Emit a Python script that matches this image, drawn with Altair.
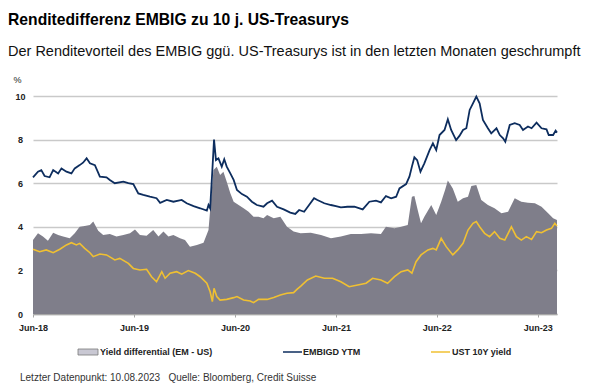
import altair as alt
import pandas as pd

# ---------------- data ----------------
embig_dates = [
    "2018-06-01", "2018-06-19", "2018-07-01", "2018-07-13", "2018-07-31", "2018-08-13",
    "2018-08-31", "2018-09-12", "2018-09-30", "2018-10-18", "2018-10-30", "2018-11-17",
    "2018-11-29", "2018-12-12", "2018-12-24", "2019-01-11", "2019-01-29", "2019-02-22",
    "2019-03-06", "2019-03-24", "2019-04-24", "2019-05-12", "2019-05-30", "2019-06-17",
    "2019-07-05", "2019-07-29", "2019-08-22", "2019-09-04", "2019-09-28", "2019-10-22",
    "2019-11-21", "2019-12-09", "2020-01-03", "2020-01-27", "2020-02-20", "2020-02-26",
    "2020-03-03", "2020-03-11", "2020-03-17", "2020-03-24", "2020-04-02", "2020-04-14",
    "2020-04-23", "2020-05-02", "2020-05-15", "2020-05-27", "2020-06-08", "2020-06-26",
    "2020-07-14", "2020-08-01", "2020-08-19", "2020-09-12", "2020-09-25", "2020-10-13",
    "2020-10-31", "2020-11-24", "2020-12-18", "2021-01-05", "2021-01-19", "2021-02-06",
    "2021-02-24", "2021-03-14", "2021-03-26", "2021-04-20", "2021-05-14", "2021-06-01",
    "2021-06-19", "2021-07-13", "2021-08-07", "2021-09-06", "2021-09-30", "2021-10-24",
    "2021-11-11", "2021-11-29", "2021-12-18", "2022-01-05", "2022-01-17", "2022-02-10",
    "2022-02-22", "2022-03-03", "2022-03-12", "2022-03-22", "2022-04-03", "2022-04-17",
    "2022-05-06", "2022-05-18", "2022-05-30", "2022-06-11", "2022-06-29", "2022-07-11",
    "2022-07-23", "2022-08-10", "2022-08-22", "2022-09-04", "2022-09-16", "2022-09-28",
    "2022-10-10", "2022-10-22", "2022-11-03", "2022-11-15", "2022-12-03", "2022-12-15",
    "2023-01-03", "2023-01-15", "2023-01-27", "2023-02-04", "2023-02-20", "2023-03-10",
    "2023-03-28", "2023-04-09", "2023-04-27", "2023-05-10", "2023-05-28", "2023-06-15",
    "2023-07-03", "2023-07-11", "2023-07-27", "2023-08-05", "2023-08-10",
]
embig_ytm = [
    6.27, 6.53, 6.60, 6.33, 6.27, 6.60,
    6.45, 6.68, 6.53, 6.45, 6.68, 6.83,
    6.94, 7.14, 6.91, 6.83, 6.30, 6.27,
    6.15, 6.00, 6.07, 6.00, 5.96, 5.53,
    5.46, 5.38, 5.31, 5.10, 5.23, 5.15,
    5.23, 5.08, 4.95, 4.85, 4.74, 5.00,
    4.85, 6.60, 8.00, 7.06, 7.14, 6.76,
    7.10, 6.76, 6.45, 6.15, 5.69, 5.50,
    5.38, 5.15, 5.00, 4.92, 5.08, 5.20,
    4.92, 4.80, 4.65, 4.59, 4.77, 4.69,
    5.00, 5.31, 5.23, 5.08, 5.00, 4.95,
    4.89, 4.92, 4.92, 4.80, 5.15, 5.20,
    5.12, 5.41, 5.31, 5.38, 5.76, 5.96,
    6.30, 6.76, 7.19, 7.06, 6.53, 6.91,
    7.52, 7.83, 7.52, 8.21, 8.44, 8.93,
    8.44, 7.98, 8.17, 8.44, 8.52, 9.36,
    9.66, 9.97, 9.66, 8.90, 8.52, 8.29,
    8.52, 8.21, 8.06, 7.90, 8.67, 8.75,
    8.67, 8.44, 8.60, 8.52, 8.78, 8.52,
    8.47, 8.21, 8.21, 8.41, 8.32,
]

ust_dates = [
    "2018-06-01", "2018-06-25", "2018-07-19", "2018-08-13", "2018-09-06", "2018-09-30",
    "2018-10-18", "2018-11-05", "2018-11-17", "2018-12-05", "2018-12-24", "2019-01-05",
    "2019-01-29", "2019-02-22", "2019-03-24", "2019-04-11", "2019-05-12", "2019-05-30",
    "2019-06-23", "2019-07-17", "2019-08-04", "2019-08-22", "2019-09-10", "2019-09-22",
    "2019-10-10", "2019-11-03", "2019-11-21", "2019-12-15", "2020-01-09", "2020-01-27",
    "2020-02-20", "2020-03-03", "2020-03-11", "2020-03-17", "2020-03-27", "2020-04-08",
    "2020-05-02", "2020-05-27", "2020-06-08", "2020-07-02", "2020-07-26", "2020-08-07",
    "2020-08-25", "2020-09-25", "2020-10-19", "2020-11-12", "2020-12-06", "2020-12-30",
    "2021-01-11", "2021-01-25", "2021-02-18", "2021-03-20", "2021-04-20", "2021-05-20",
    "2021-06-19", "2021-07-19", "2021-08-19", "2021-09-18", "2021-10-12", "2021-11-11",
    "2021-12-05", "2021-12-30", "2022-01-23", "2022-02-16", "2022-03-03", "2022-03-18",
    "2022-04-05", "2022-04-30", "2022-05-18", "2022-05-30", "2022-06-17", "2022-07-05",
    "2022-07-29", "2022-08-16", "2022-09-04", "2022-09-22", "2022-10-10", "2022-10-22",
    "2022-11-03", "2022-11-21", "2022-12-09", "2022-12-27", "2023-01-15", "2023-02-02",
    "2023-02-26", "2023-03-16", "2023-04-03", "2023-04-21", "2023-05-10", "2023-05-28",
    "2023-06-15", "2023-07-03", "2023-07-21", "2023-08-02", "2023-08-10",
]
ust_10y = [
    2.97, 2.86, 2.94, 2.81, 2.97, 3.17,
    3.27, 3.17, 3.24, 3.01, 2.81, 2.63,
    2.75, 2.71, 2.48, 2.55, 2.32, 2.09,
    2.02, 2.05, 1.71, 1.48, 1.94, 1.64,
    1.87, 1.94, 1.83, 1.99, 1.87, 1.71,
    1.41, 1.02, 0.57, 1.18, 0.80, 0.64,
    0.67, 0.75, 0.80, 0.64, 0.60, 0.52,
    0.67, 0.67, 0.76, 0.87, 0.95, 0.98,
    1.13, 1.28, 1.56, 1.74, 1.64, 1.64,
    1.48, 1.25, 1.33, 1.41, 1.64, 1.56,
    1.41, 1.71, 1.94, 2.02, 1.87, 2.40,
    2.71, 2.94, 3.01, 2.94, 3.47, 3.09,
    2.71, 2.94, 3.24, 3.85, 4.16, 4.24,
    4.00, 3.70, 3.55, 3.78, 3.47, 3.39,
    4.00, 3.55, 3.39, 3.55, 3.42, 3.78,
    3.73, 3.85, 3.93, 4.16, 4.04,
]

diff_dates = [
    "2018-06-01", "2018-06-19", "2018-07-07", "2018-07-25", "2018-08-13", "2018-08-31",
    "2018-09-18", "2018-10-12", "2018-10-30", "2018-11-17", "2018-12-05", "2018-12-24",
    "2019-01-05", "2019-01-23", "2019-02-10", "2019-03-06", "2019-03-30", "2019-04-24",
    "2019-05-18", "2019-06-05", "2019-06-23", "2019-07-17", "2019-08-10", "2019-08-29",
    "2019-09-16", "2019-10-04", "2019-10-22", "2019-11-15", "2019-12-03", "2019-12-21",
    "2020-01-15", "2020-02-08", "2020-02-26", "2020-03-07", "2020-03-15", "2020-03-27",
    "2020-04-08", "2020-04-20", "2020-05-02", "2020-05-15", "2020-05-27", "2020-06-14",
    "2020-07-02", "2020-07-20", "2020-08-07", "2020-08-25", "2020-09-12", "2020-09-25",
    "2020-10-19", "2020-11-12", "2020-12-06", "2020-12-30", "2021-01-24", "2021-03-02",
    "2021-04-08", "2021-05-14", "2021-06-19", "2021-07-25", "2021-08-31", "2021-10-06",
    "2021-11-11", "2021-11-29", "2021-12-30", "2022-01-23", "2022-02-16", "2022-03-03",
    "2022-03-12", "2022-03-24", "2022-04-05", "2022-04-17", "2022-05-12", "2022-05-30",
    "2022-06-17", "2022-07-01", "2022-07-11", "2022-07-29", "2022-08-16", "2022-09-04",
    "2022-09-22", "2022-10-04", "2022-10-22", "2022-11-09", "2022-12-03", "2022-12-27",
    "2023-01-21", "2023-02-14", "2023-03-10", "2023-04-03", "2023-04-27", "2023-05-22",
    "2023-06-15", "2023-07-09", "2023-07-27", "2023-08-10",
]
yield_diff = [
    3.39, 3.70, 3.55, 3.36, 3.73, 3.62,
    3.55, 3.47, 3.70, 4.00, 4.04, 4.08,
    4.24, 3.82, 3.62, 3.67, 3.55, 3.62,
    3.70, 3.88, 3.62, 3.59, 3.85, 3.55,
    3.78, 3.55, 3.62, 3.47, 3.39, 3.09,
    3.17, 3.27, 3.85, 5.38, 6.60, 6.76,
    6.38, 6.53, 6.07, 5.54, 5.15, 5.00,
    4.85, 4.69, 4.46, 4.46, 4.39, 4.54,
    4.39, 4.46, 4.00, 3.78, 3.70, 3.73,
    3.62, 3.47, 3.55, 3.67, 3.67, 3.70,
    3.67, 4.00, 3.93, 4.00, 4.08, 5.38,
    5.41, 4.77, 4.16, 4.46, 5.00, 4.54,
    5.15, 5.69, 6.12, 5.76, 5.15, 5.31,
    5.38, 5.87, 5.92, 5.23, 5.00, 4.85,
    4.62, 4.69, 5.31, 5.15, 5.10, 5.08,
    4.92, 4.62, 4.39, 4.31,
]

tick_years = [2018, 2019, 2020, 2021, 2022, 2023]
y_ticks = [0, 2, 4, 6, 8, 10]

title_text = "Renditedifferenz EMBIG zu 10 j. US-Treasurys"
subtitle_text = "Der Renditevorteil des EMBIG ggü. US-Treasurys ist in den letzten Monaten geschrumpft"
footer_text = "Letzter Datenpunkt: 10.08.2023\u00a0\u00a0\u00a0Quelle: Bloomberg, Credit Suisse"
legend_labels = ["Yield differential (EM - US)", "EMBIGD YTM", "UST 10Y yield"]

# ---------------- styling ----------------
GRAY = "#7f7e8a"
NAVY = "#0d2d5e"
GOLD = "#f0c032"
FONT = "Liberation Sans"

df_emb = pd.DataFrame({"date": embig_dates, "value": embig_ytm})
df_ust = pd.DataFrame({"date": ust_dates, "value": ust_10y})
df_diff = pd.DataFrame({"date": diff_dates, "value": yield_diff})

x_enc = alt.X(
    "date:T",
    scale=alt.Scale(
        type="utc",
        domain=[alt.DateTime(year=2018, month=6, date=1, utc=True),
                alt.DateTime(year=2023, month=8, date=10, utc=True)],
    ),
    axis=alt.Axis(
        values=[alt.DateTime(year=y, month=6, date=1, utc=True) for y in tick_years],
        labelExpr="utcFormat(datum.value, '%b-%y')",
        title=None,
        grid=False,
        domainColor="#a6a6a6",
        domainWidth=1.5,
        tickColor="#a6a6a6",
        tickSize=3,
        labelPadding=6,
        labelFont=FONT,
        labelFontSize=9,
        labelFontWeight="bold",
        labelColor="#222222",
        labelFlush=False,
    ),
)
y_enc = alt.Y(
    "value:Q",
    scale=alt.Scale(domain=[0, 10], nice=False),
    axis=alt.Axis(
        values=y_ticks,
        title="%",
        titleAngle=0,
        titleX=-20,
        titleY=-14,
        titleAlign="left",
        titleBaseline="alphabetic",
        titleFont=FONT,
        titleFontSize=9,
        titleFontWeight="normal",
        titleColor="#222222",
        grid=True,
        gridColor="#c9c9c9",
        gridWidth=1.5,
        domain=False,
        ticks=False,
        labelAlign="center",
        labelPadding=13,
        labelFont=FONT,
        labelFontSize=9,
        labelFontWeight="bold",
        labelColor="#222222",
    ),
)

area = alt.Chart(df_diff).mark_area(color=GRAY, opacity=1).encode(x=x_enc, y=y_enc)
ust_line = alt.Chart(df_ust).mark_line(color=GOLD, strokeWidth=1.6).encode(x="date:T", y="value:Q")
emb_line = alt.Chart(df_emb).mark_line(color=NAVY, strokeWidth=1.8).encode(x="date:T", y="value:Q")

one = pd.DataFrame({"k": [0]})


def txt(text, x, y, size, weight="normal", color="#000000", align="left", baseline="alphabetic"):
    return alt.Chart(one).mark_text(
        text=text, font=FONT, fontSize=size, fontWeight=weight, color=color,
        align=align, baseline=baseline,
    ).encode(x=alt.value(x), y=alt.value(y))


title = txt(title_text, -25, -71, 15.7, "bold", "#000000")
subtitle = txt(subtitle_text, -25, -40, 14.5, "normal", "#111111")
footer = txt(footer_text, -13, 285, 10, "normal", "#333333")

leg_box = alt.Chart(one).mark_rect(fill="#c9c8d3", stroke="#7a7a7a", strokeWidth=0.8).encode(
    x=alt.value(45), x2=alt.value(65), y=alt.value(253), y2=alt.value(259)
)
leg_navy = alt.Chart(one).mark_rule(color=NAVY, strokeWidth=1.5).encode(
    x=alt.value(250), x2=alt.value(269), y=alt.value(256)
)
leg_gold = alt.Chart(one).mark_rule(color=GOLD, strokeWidth=1.5).encode(
    x=alt.value(398), x2=alt.value(417), y=alt.value(256)
)
leg_t1 = txt(legend_labels[0], 67, 256, 9, "bold", "#222222", baseline="middle")
leg_t2 = txt(legend_labels[1], 270, 256, 9, "bold", "#222222", baseline="middle")
leg_t3 = txt(legend_labels[2], 419, 256, 9, "bold", "#222222", baseline="middle")

chart = alt.layer(
    area, ust_line, emb_line,
    title, subtitle, footer,
    leg_box, leg_navy, leg_gold, leg_t1, leg_t2, leg_t3,
).properties(
    width=524,
    height=218,
    autosize=alt.AutoSizeParams(type="none"),
    padding={"left": 25, "top": 88, "right": 40, "bottom": 70},
    background="white",
).configure_view(stroke=None)

chart.save("out.html", embed_options={"renderer": "svg", "actions": False})
